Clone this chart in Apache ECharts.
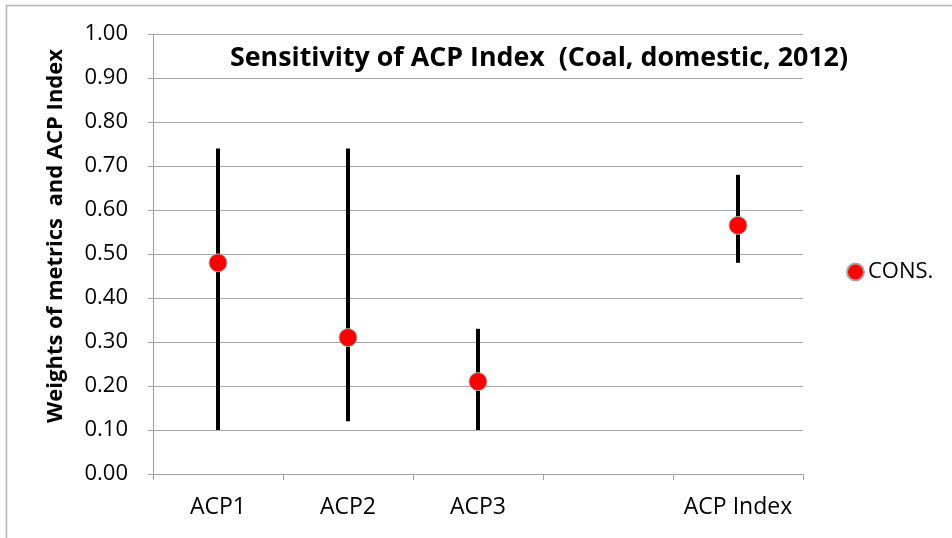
<!DOCTYPE html>
<html>
<head>
<meta charset="utf-8">
<script src="https://cdn.jsdelivr.net/npm/echarts@6/dist/echarts.min.js"></script>
<style>
  html, body { margin: 0; padding: 0; background: #fff; }
  #chart { width: 952px; height: 538px; }
</style>
</head>
<body>
<div id="chart"></div>
<script>
// data
const categories = ['ACP1', 'ACP2', 'ACP3', '', 'ACP Index']
const consValues = [0.48, 0.31, 0.21, null, 0.565]
const lowValues = [0.10, 0.12, 0.10, null, 0.48]
const highValues = [0.74, 0.74, 0.33, null, 0.68]
const yTicks = [0, 0.1, 0.2, 0.3, 0.4, 0.5, 0.6, 0.7, 0.8, 0.9, 1.0]

const font = '"Open Sans", sans-serif'

const rangeData = []
categories.forEach((c, i) => {
  if (lowValues[i] != null) rangeData.push([i, lowValues[i], highValues[i]])
})

const chart = echarts.init(document.getElementById('chart'))

chart.setOption({
  animation: false,
  textStyle: { fontFamily: font },
  title: {
    text: 'Sensitivity of ACP Index  (Coal, domestic, 2012)',
    left: 534,
    textAlign: 'center',
    top: 40,
    textStyle: { fontFamily: font, fontSize: 26.8, fontWeight: 'bold', color: '#000' }
  },
  legend: {
    data: ['CONS.'],
    orient: 'vertical',
    left: 841,
    top: 256,
    icon: 'circle',
    itemWidth: 17,
    itemHeight: 17,
    itemGap: 4,
    textStyle: { fontFamily: font, fontSize: 22, color: '#000', padding: [0, 0, 0, -1] }
  },
  graphic: [{
    type: 'rect',
    shape: { x: 6.5, y: 5.5, width: 1000, height: 600 },
    style: { fill: 'none', stroke: '#b4b4b4', lineWidth: 1.5 },
    silent: true
  }],
  grid: { left: 153, right: 149, top: 34, bottom: 64 },
  xAxis: {
    type: 'category',
    data: categories,
    axisLine: { lineStyle: { color: '#a0a0a0', width: 1 } },
    axisTick: { show: true, interval: 0, length: 6, lineStyle: { color: '#a0a0a0' } },
    axisLabel: { interval: 0, color: '#000', fontSize: 23, fontFamily: font, margin: 22 },
    splitLine: { show: false }
  },
  yAxis: {
    type: 'value',
    min: yTicks[0],
    max: yTicks[yTicks.length - 1],
    interval: 0.1,
    name: 'Weights of metrics  and ACP Index',
    nameLocation: 'middle',
    nameGap: 86,
    nameTextStyle: { fontFamily: font, fontSize: 22, fontWeight: 'bold', color: '#000', padding: [0, 0, 0, 36] },
    axisLine: { show: true, lineStyle: { color: '#a0a0a0', width: 1 } },
    axisTick: { show: true, length: 5, lineStyle: { color: '#a0a0a0' } },
    axisLabel: {
      color: '#000',
      fontSize: 22,
      fontFamily: font,
      margin: 25,
      formatter: v => v.toFixed(2)
    },
    splitLine: { lineStyle: { color: '#a6a6a6', width: 1 } }
  },
  series: [
    {
      name: 'range',
      type: 'custom',
      data: rangeData,
      encode: { x: 0, y: [1, 2] },
      renderItem: (params, api) => {
        const lo = api.coord([api.value(0), api.value(1)])
        const hi = api.coord([api.value(0), api.value(2)])
        return {
          type: 'line',
          shape: { x1: lo[0], y1: lo[1], x2: hi[0], y2: hi[1] },
          style: { stroke: '#000', lineWidth: 4 }
        }
      },
      z: 2
    },
    {
      name: 'CONS.',
      type: 'scatter',
      data: consValues,
      symbol: 'circle',
      symbolSize: 18,
      itemStyle: { color: '#ff0000', borderColor: '#a8a8a8', borderWidth: 1, opacity: 1 },
      z: 3
    }
  ]
})
</script>
</body>
</html>
